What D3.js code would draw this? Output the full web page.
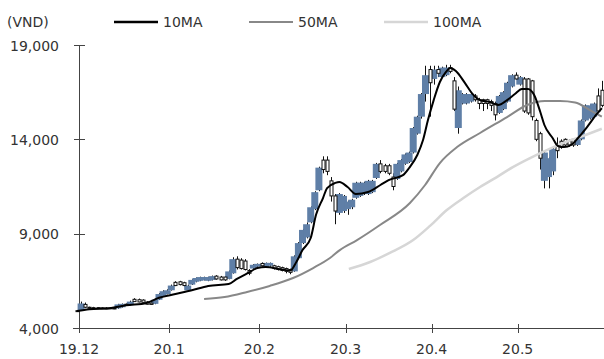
<!DOCTYPE html>
<html><head><meta charset="utf-8">
<script src="https://cdn.jsdelivr.net/npm/d3@7"></script>
<style>
html,body{margin:0;padding:0;background:#fff;}
svg{display:block;font-family:"DejaVu Sans",sans-serif;}
</style></head><body>
<svg id="chart" width="604" height="359"></svg>
<script>
// Daily OHLC prices (VND), one entry per trading session
const openP = [4920,4950,5250,5100,5080,5080,5070,5060,5070,5060,
  5040,5100,5260,5220,5520,5500,5480,5380,5320,5280,
  5500,5700,5800,6000,6420,6450,6400,6000,6300,6450,
  6500,6550,6500,6550,6750,6700,6700,6600,6900,7650,
  7600,7550,7050,7150,7250,7420,7250,7300,7300,7250,
  7200,7150,7100,7000,7700,8500,8800,9600,10300,11300,
  12900,12900,11800,11000,10100,10200,10300,10400,10900,11000,
  11100,11100,11200,11950,12700,12600,12600,12000,11900,12300,
  12700,12800,13300,14300,15200,16400,17700,17200,17700,17300,
  17400,17800,17100,14600,15900,15900,16000,16300,16100,16100,
  16100,16000,15900,15400,15600,16000,16800,17400,16900,17200,
  17200,17100,15000,14300,11800,12000,12300,13700,13900,14000,
  13900,14000,13700,14000,15000,15100,15200,16300,16600];
const highP = [4950,5400,5350,5130,5120,5110,5100,5100,5110,5100,
  5280,5300,5300,5450,5580,5560,5520,5420,5360,5560,
  5850,6000,6050,6300,6480,6500,6450,6300,6580,6680,
  6720,6720,6720,6780,6800,6760,6750,7050,7750,7800,
  7700,7650,7120,7380,7420,7480,7470,7470,7350,7300,
  7250,7200,7150,7850,8550,9250,9600,10450,11250,12550,
  13100,13100,12000,11100,11150,11050,10750,10850,11750,11750,
  11750,11850,11850,12750,12900,12700,12700,12200,12750,12950,
  13250,13350,14650,15250,16450,17900,17900,17900,17900,17850,
  17950,17950,17300,16800,16450,16450,16450,16400,16200,16150,
  16150,16100,16000,16350,16550,17050,17450,17550,17350,17300,
  17250,17150,15100,14400,13350,13050,13550,14100,14000,14050,
  14000,14050,14050,15050,15850,15850,15950,16700,17100];
const lowP = [4880,4930,5050,5030,5020,5020,5010,5000,5010,5000,
  5020,5080,5180,5200,5380,5360,5340,5240,5220,5260,
  5480,5680,5780,5980,6220,6260,6200,5980,6280,6420,
  6480,6520,6480,6520,6560,6520,6500,6580,6880,7100,
  7100,7050,6800,7100,7200,7250,7200,7250,7100,7050,
  7000,6900,6850,6980,7650,8450,8750,9550,10250,11250,
  12200,12100,10700,9500,10000,10100,10000,10300,10850,10950,
  11050,11050,11150,11900,12200,12200,12100,11300,11850,12250,
  12650,12750,13250,14250,15100,16000,15200,16900,17300,17250,
  17350,17500,15500,14300,15850,15850,15950,16000,15600,15500,
  15600,15500,15000,15350,15550,15950,16750,17150,16850,15400,
  15300,15000,13900,12400,11400,11400,12100,13000,13500,13600,
  13600,13600,13650,13950,14950,15050,15150,15400,15700];
const closeP = [4900,5300,5100,5060,5050,5040,5040,5030,5040,5030,
  5250,5280,5200,5400,5400,5380,5360,5260,5250,5500,
  5800,5950,6000,6250,6250,6300,6250,6250,6550,6650,
  6700,6700,6700,6750,6600,6550,6550,7000,7650,7200,
  7150,7100,6900,7350,7400,7300,7450,7450,7150,7100,
  7050,7000,6950,7800,8500,9200,9500,10400,11200,12500,
  12400,12300,11000,10200,11100,11000,10700,10800,11700,11700,
  11700,11800,11800,12700,12300,12300,12200,11500,12700,12900,
  13200,13300,14600,15200,16400,17400,17000,17700,17500,17800,
  17800,17600,15600,16600,16400,16400,16400,16100,15900,15900,
  15900,15800,15300,16300,16500,17000,17400,17200,17300,15500,
  15400,15200,14000,13000,13300,13000,13500,13400,13600,13700,
  13700,13700,14000,15000,15800,15800,15900,15500,15800];

// Moving averages as [session index, price] pairs
const ma10 = [[0,4900],[3,5000],[8,5050],[12,5200],[17,5330],[20,5600],[24,5800],
  [28,6000],[32,6230],[37,6330],[39,6600],[42,6950],[44,7180],[46,7230],[50,7100],
  [52,7050],[53.5,7500],[55,8130],[57,8770],[58.3,10000],[60,10890],[61,11420],
  [63,11690],[64,11740],[66,11470],[68,11100],[71,11210],[74,11580],[76,11840],
  [79.5,12100],[81,12480],[83,13170],[84.4,13960],[85.6,15020],[87,16080],[88.5,17040],
  [90,17570],[91,17780],[92.4,17620],[94.6,16990],[96.3,16450],[98.3,16080],
  [100.7,15980],[102.7,15820],[104.9,16080],[106.8,16400],[108.5,16670],[110,16670],
  [111.5,16350],[113,15450],[114,14760],[116,14070],[117.3,13650],[118.8,13590],
  [120.5,13700],[122.2,14070],[124.4,14650],[126.6,15290],[128,15650]];
const ma50 = [[31,5540],[36,5640],[41.5,5910],[47,6230],[52.7,6650],[57.6,7180],
  [61.7,7710],[64.1,8130],[68.3,8660],[73.9,9460],[81.2,10625],[84.9,11580],
  [88.5,12745],[92.7,13590],[98.3,14335],[104.9,15180],[109.8,15820],[114.1,16030],
  [117.8,16030],[121.5,15950],[125.1,15550],[128,15200]];
const ma100 = [[66.3,7130],[71.5,7500],[76.3,7980],[82,8660],[86.1,9410],[90.2,10250],
  [94.6,10940],[98.3,11470],[102.4,12000],[106.3,12530],[110.5,13010],[114.6,13430],
  [118.5,13800],[122.7,14120],[128,14560]];

const yTicks = [4000, 9000, 14000, 19000];
const monthLabels = ["19.12","20.1","20.2","20.3","20.4","20.5"];
const monthStart = [0, 22, 44, 65, 86, 107];

const candles = openP.map((o, i) => ({i, o, h: highP[i], l: lowP[i], c: closeP[i]}));

const svg = d3.select("#chart");
const x = d3.scaleLinear().domain([0, 128]).range([77, 601.8]);
const y = d3.scaleLinear().domain([4000, 19000]).range([328, 45]);
const blue = "#5f7fa7";
const textCol = "#333";

// Axes
const axisG = svg.append("g");
axisG.append("line").attr("x1", 79.5).attr("x2", 79.5).attr("y1", y(19000)).attr("y2", 328.5)
  .attr("stroke", "#444").attr("stroke-width", 1);
axisG.append("line").attr("x1", 73).attr("x2", 604).attr("y1", 328.5).attr("y2", 328.5)
  .attr("stroke", "#444").attr("stroke-width", 1);

axisG.selectAll(".yt").data(yTicks).join("line")
  .attr("x1", 74).attr("x2", 85)
  .attr("y1", d => Math.round(y(d)) + 0.5).attr("y2", d => Math.round(y(d)) + 0.5)
  .attr("stroke", "#444");
axisG.selectAll(".yl").data(yTicks).join("text")
  .attr("x", 59).attr("y", d => y(d) + 5.5)
  .attr("text-anchor", "end").attr("font-size", 14).attr("fill", textCol)
  .text(d => d3.format(",")(d));

const tickX = i => Math.round(x(i) + 2) + 0.5;
axisG.selectAll(".xt").data(monthStart).join("line")
  .attr("x1", tickX).attr("x2", tickX).attr("y1", 324).attr("y2", 333)
  .attr("stroke", "#444");
axisG.selectAll(".xl").data(monthStart).join("text")
  .attr("x", d => x(d) + 2).attr("y", 354)
  .attr("text-anchor", "middle").attr("font-size", 14).attr("fill", textCol)
  .text((d, k) => monthLabels[k]);

// Candles: high-low lines then bodies
const cg = svg.append("g");
cg.selectAll(".wick").data(candles).join("line")
  .attr("x1", d => Math.round(x(d.i)) + 0.5).attr("x2", d => Math.round(x(d.i)) + 0.5)
  .attr("y1", d => y(d.h)).attr("y2", d => y(d.l))
  .attr("stroke", "#111").attr("stroke-width", 1);

const up = candles.filter(d => d.c >= d.o);
const down = candles.filter(d => d.c < d.o);
cg.selectAll(".up").data(up).join("rect")
  .attr("x", d => x(d.i) - 3.5).attr("width", 7)
  .attr("y", d => y(d.c)).attr("height", d => Math.max(1, y(d.o) - y(d.c)))
  .attr("fill", blue);
cg.selectAll(".down").data(down).join("rect")
  .attr("x", d => Math.round(x(d.i)) - 1).attr("width", 3)
  .attr("y", d => y(d.o)).attr("height", d => Math.max(1, y(d.c) - y(d.o)))
  .attr("fill", "#fff").attr("stroke", "#111").attr("stroke-width", 1);

// Moving average lines
const line = d3.line().x(d => x(d[0])).y(d => y(d[1])).curve(d3.curveMonotoneX);
svg.append("path").attr("d", line(ma100)).attr("fill", "none")
  .attr("stroke", "#d6d6d6").attr("stroke-width", 2.5);
svg.append("path").attr("d", line(ma50)).attr("fill", "none")
  .attr("stroke", "#888").attr("stroke-width", 2);
svg.append("path").attr("d", line(ma10)).attr("fill", "none")
  .attr("stroke", "#000").attr("stroke-width", 2);

// Unit label and legend
svg.append("text").attr("x", 7).attr("y", 27).attr("font-size", 14).attr("fill", textCol).text("(VND)");
const legend = [
  {name: "10MA", color: "#000", w: 2.5, x: 114},
  {name: "50MA", color: "#888", w: 2, x: 249},
  {name: "100MA", color: "#d6d6d6", w: 2.5, x: 384}
];
const lg = svg.selectAll(".lg").data(legend).join("g");
lg.append("line").attr("x1", d => d.x).attr("x2", d => d.x + 44)
  .attr("y1", 22).attr("y2", 22).attr("stroke", d => d.color).attr("stroke-width", d => d.w);
lg.append("text").attr("x", d => d.x + 49).attr("y", 27).attr("font-size", 14)
  .attr("fill", textCol).text(d => d.name);
</script>
</body></html>
